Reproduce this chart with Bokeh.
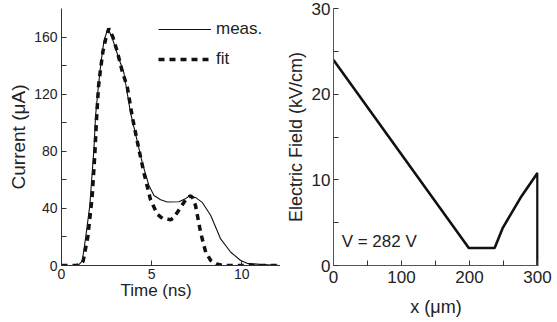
from bokeh.plotting import figure
from bokeh.layouts import row
from bokeh.models import Range1d, FixedTicker, Legend, LegendItem, Label, Title
from bokeh.embed import file_html
from bokeh.resources import INLINE

# ---------------- data ----------------
t_meas = [0, 0.6, 0.95, 1.15, 1.33, 1.57, 1.8, 1.89, 2.02, 2.17, 2.35, 2.57, 2.8, 3.18, 3.46,
          3.83, 4.11, 4.48, 4.85, 5.13, 5.5, 5.87, 6.52, 6.9, 7.13, 7.45, 7.82, 8.28, 8.83,
          9.39, 9.94, 10.3, 11.0, 12.15]
i_meas = [0, 0, 0.5, 3, 18.6, 42, 82, 105, 122, 140, 157, 166, 160, 145, 135,
          107, 92, 72, 56, 49, 46, 44.5, 44.6, 47, 49, 47.5, 44, 35, 18.6,
          9.3, 3.5, 1.5, 0.8, 0]

t_fit = [0, 0.8, 1.0, 1.2, 1.46, 1.7, 1.85, 1.95, 2.05, 2.17, 2.3, 2.46, 2.63, 2.85, 3.09,
         3.37, 3.65, 3.93, 4.3, 4.57, 4.94, 5.31, 5.6, 5.87, 6.06, 6.24, 6.61, 6.98, 7.17,
         7.3, 7.44, 7.72, 8.0, 8.28, 8.6, 9.0, 12.15]
i_fit = [0, 0, 0.5, 3, 20, 48, 78, 104, 125, 138, 150, 159, 166, 160, 150,
         136, 125, 104, 81, 65, 46, 36, 33, 32.5, 32, 33.7, 40.7, 47.7, 48.8,
         47, 41.8, 23, 9.3, 3.5, 1, 0, 0]

x_pos = [0, 199, 237, 249, 275, 300, 300]
e_field = [24, 2.05, 2.05, 4.4, 7.9, 10.8, 0]

time_ticks = [0, 5, 10]
current_ticks = [0, 40, 80, 120, 160]
current_minor = [20, 60, 100, 140]
x_ticks = [0, 100, 200, 300]
x_minor = [50, 150, 250]
e_ticks = [0, 10, 20, 30]
e_minor = [5, 15, 25]

FONT = "Liberation Sans"
TXT = "#222222"
AX = "#333333"


def style(p, label_size, title_size):
    p.grid.visible = False
    p.outline_line_color = None
    p.background_fill_color = None
    p.border_fill_color = None
    for ax in (p.xaxis[0], p.yaxis[0]):
        ax.axis_line_color = AX
        ax.major_tick_line_color = AX
        ax.minor_tick_line_color = AX
        ax.major_tick_in = 5
        ax.major_tick_out = 0
        ax.minor_tick_in = 5
        ax.minor_tick_out = 0
        ax.major_label_text_font = FONT
        ax.major_label_text_font_size = label_size
        ax.major_label_text_color = TXT
        ax.axis_label_text_font = FONT
        ax.axis_label_text_font_size = title_size
        ax.axis_label_text_font_style = "normal"
        ax.axis_label_text_color = TXT


# ---------------- left: current ----------------
p1 = figure(width=280, height=322, x_range=Range1d(0, 12.15), y_range=Range1d(0, 180),
            output_backend="svg", toolbar_location=None,
            min_border_left=61, min_border_right=0, min_border_top=8, min_border_bottom=55)
style(p1, "14px", "17px")
p1.xaxis.ticker = FixedTicker(ticks=time_ticks)
p1.xaxis.minor_tick_line_color = None
p1.yaxis.ticker = FixedTicker(ticks=current_ticks, minor_ticks=current_minor)
p1.yaxis.axis_label = "Current (\u03bcA)"
p1.yaxis.axis_label_text_font_size = "19px"
p1.xaxis.major_label_standoff = 3
p1.yaxis.major_label_standoff = 4
p1.yaxis.axis_label_standoff = 2

# x-axis title, a little left of the frame centre as in the reference
p1.add_layout(Title(text="Time (ns)", align="left", offset=59, standoff=-6,
                    text_font=FONT, text_font_size="17px", text_font_style="normal",
                    text_color=TXT), "below")

r_meas = p1.line(t_meas, i_meas, line_color="#111111", line_width=1.1)
r_fit = p1.line(t_fit, i_fit, line_color="#111111", line_width=3.5, line_dash="6 5")

legend = Legend(items=[LegendItem(label="meas.", renderers=[r_meas]),
                       LegendItem(label="fit", renderers=[r_fit])],
                location=(97, 196), padding=0, margin=0, spacing=10,
                glyph_width=53, glyph_height=20, label_height=20, label_standoff=5,
                border_line_color=None, background_fill_alpha=0,
                label_text_font=FONT, label_text_font_size="17px", label_text_color=TXT)
p1.add_layout(legend)

# ---------------- right: electric field ----------------
p2 = figure(width=277, height=322, x_range=Range1d(0, 301.5), y_range=Range1d(0, 30),
            output_backend="svg", toolbar_location=None,
            min_border_left=53, min_border_right=19, min_border_top=7, min_border_bottom=57)
style(p2, "17px", "18px")
p2.xaxis.ticker = FixedTicker(ticks=x_ticks, minor_ticks=x_minor)
p2.yaxis.ticker = FixedTicker(ticks=e_ticks, minor_ticks=e_minor)
p2.xaxis.axis_label = "x (\u03bcm)"
p2.yaxis.axis_label = "Electric Field (kV/cm)"
p2.xaxis.major_label_standoff = 5
p2.xaxis.axis_label_standoff = 11
p2.yaxis.major_label_standoff = 3
p2.yaxis.axis_label_standoff = 3
p2.xaxis.axis_line_color = "#555555"
p2.yaxis.axis_line_color = "#555555"

p2.line(x_pos, e_field, line_color="#111111", line_width=2.6)
p2.add_layout(Label(x=12, y=2.75, text="V = 282 V", text_baseline="middle",
                    text_font=FONT, text_font_size="17px", text_color=TXT))

layout = row(p1, p2)
layout.sizing_mode = "fixed"

with open("out.html", "w") as f:
    f.write(file_html(layout, INLINE))
